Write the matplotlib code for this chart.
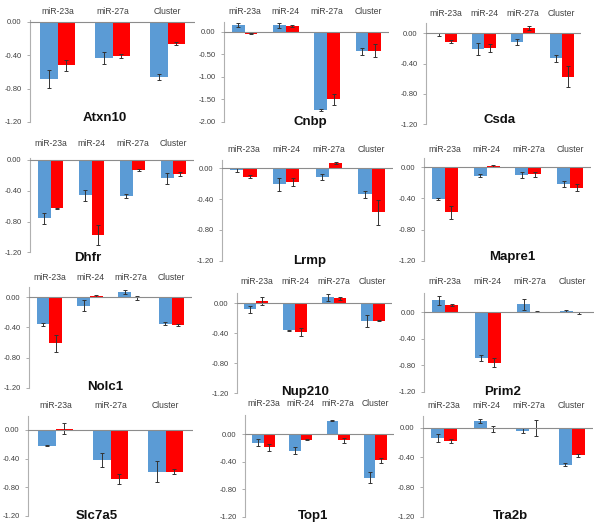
import numpy as np
import matplotlib
matplotlib.use('Agg')
from matplotlib import pyplot as plt
from matplotlib.ticker import FormatStrFormatter

plt.rcParams['font.family'] = ['Liberation Sans', 'DejaVu Sans']

BLUE = '#5b9bd5'
RED = '#ff0000'
GREY_TXT = '#404040'

# values (log fold change, blue / red series)
genes = ['Atxn10', 'Cnbp', 'Csda', 'Dhfr', 'Lrmp', 'Mapre1',
         'Nolc1', 'Nup210', 'Prim2', 'Slc7a5', 'Top1', 'Tra2b']

cats4 = ['miR-23a', 'miR-24', 'miR-27a', 'Cluster']
cats3 = ['miR-23a', 'miR-27a', 'Cluster']
cats = [cats3, cats4, cats4, cats4, cats4, cats4,
        cats4, cats4, cats4, cats3, cats4, cats4]

blue = [
    [-0.68, -0.43, -0.66],
    [0.15, 0.14, -1.73, -0.43],
    [-0.01, -0.21, -0.11, -0.33],
    [-0.76, -0.46, -0.47, -0.24],
    [-0.02, -0.21, -0.11, -0.34],
    [-0.41, -0.11, -0.10, -0.21],
    [-0.36, -0.11, 0.07, -0.35],
    [-0.08, -0.36, 0.08, -0.24],
    [0.18, -0.69, 0.12, 0.02],
    [-0.22, -0.42, -0.58],
    [-0.12, -0.24, 0.20, -0.63],
    [-0.14, 0.09, -0.04, -0.50],
]
blue_err = [
    [0.11, 0.07, 0.04],
    [0.04, 0.05, 0.02, 0.08],
    [0.02, 0.08, 0.04, 0.05],
    [0.07, 0.07, 0.03, 0.07],
    [0.03, 0.09, 0.04, 0.04],
    [0.01, 0.02, 0.04, 0.04],
    [0.02, 0.07, 0.03, 0.02],
    [0.05, 0.01, 0.05, 0.08],
    [0.07, 0.04, 0.08, 0.02],
    [0.01, 0.10, 0.15],
    [0.05, 0.05, 0.01, 0.08],
    [0.05, 0.03, 0.03, 0.02],
]
red = [
    [-0.52, -0.41, -0.26],
    [-0.04, 0.13, -1.50, -0.42],
    [-0.11, -0.19, 0.07, -0.57],
    [-0.63, -0.98, -0.13, -0.18],
    [-0.11, -0.18, 0.07, -0.57],
    [-0.58, 0.02, -0.09, -0.26],
    [-0.61, 0.02, -0.01, -0.37],
    [0.03, -0.38, 0.07, -0.23],
    [0.11, -0.76, 0.01, -0.01],
    [0.02, -0.69, -0.58],
    [-0.19, -0.08, -0.09, -0.38],
    [-0.18, -0.02, 0.00, -0.37],
]
red_err = [
    [0.07, 0.02, 0.02],
    [0.01, 0.02, 0.12, 0.14],
    [0.02, 0.05, 0.02, 0.14],
    [0.01, 0.13, 0.01, 0.03],
    [0.02, 0.05, 0.01, 0.16],
    [0.08, 0.01, 0.03, 0.04],
    [0.11, 0.01, 0.03, 0.01],
    [0.05, 0.05, 0.02, 0.01],
    [0.02, 0.07, 0.01, 0.01],
    [0.08, 0.07, 0.04],
    [0.05, 0.01, 0.03, 0.04],
    [0.03, 0.04, 0.11, 0.02],
]
yticks_std = [0.0, -0.4, -0.8, -1.2]
yticks_cnbp = [0.0, -0.5, -1.0, -1.5, -2.0]

# panel geometry in pixels: left, right, top, zero, bottom, ymin, label y, title x, title y
layout = [
    (30, 195, 20, 22, 122, -1.2, 12, 105, 118),
    (224, 389, 22, 31.7, 122, -2.0, 12, 310, 122),
    (426, 581, 23, 33.3, 124.3, -1.2, 13, 500, 120),
    (30, 194, 158, 160, 252.3, -1.2, 143, 88, 258),
    (222, 393, 160, 168.3, 260.7, -1.2, 150, 310, 261),
    (424, 591, 158, 167.3, 260.7, -1.2, 150, 512, 257),
    (29, 192, 287, 297.3, 387.7, -1.2, 278, 105, 387),
    (237, 392, 293, 303.3, 393.3, -1.2, 282, 305, 392),
    (424, 594, 293, 312.3, 391.7, -1.2, 282, 503, 392),
    (28, 193, 416, 430, 516, -1.2, 406, 97, 516),
    (245, 394, 415, 434.3, 516.7, -1.2, 404, 313, 516),
    (423, 593, 416, 427.7, 516.7, -1.2, 406, 510, 516),
]

W, H = 600, 526
fig = plt.figure(figsize=(W / 100, H / 100), dpi=100)

for i, g in enumerate(genes):
    left, right, top, y0, bot, ymin, lab_y, tx, ty = layout[i]
    scale = (bot - y0) / (-ymin)
    ymax = (y0 - top) / scale
    ax = fig.add_axes([left / W, 1 - bot / H, (right - left) / W, (bot - top) / H])
    n = len(cats[i])
    x = np.arange(n)
    w = 0.31
    ek = dict(ecolor='#333333', elinewidth=0.7, capsize=1.2, capthick=0.7)
    ax.bar(x - w / 2, blue[i], w, color=BLUE, yerr=blue_err[i], error_kw=ek, zorder=2)
    ax.bar(x + w / 2, red[i], w, color=RED, yerr=red_err[i], error_kw=ek, zorder=2)
    ax.axhline(0, color='#8c8c8c', lw=0.8, zorder=3)
    ax.set_xlim(-0.5, n - 0.5)
    ax.set_ylim(ymin, ymax)
    ax.set_yticks(yticks_cnbp if g == 'Cnbp' else yticks_std)
    ax.yaxis.set_major_formatter(FormatStrFormatter('%.2f'))
    ax.tick_params(axis='y', labelsize=5.5, colors='#a0a0a0', labelcolor=GREY_TXT,
                   length=2, width=0.6, pad=4)
    ax.set_xticks([])
    for s in ('top', 'right', 'bottom'):
        ax.spines[s].set_visible(False)
    ax.spines['left'].set_color('#b0b0b0')
    ax.spines['left'].set_linewidth(0.8)
    ax.patch.set_alpha(0)
    # category names above the panel
    for j, c in enumerate(cats[i]):
        cx = left + (j + 0.5) * (right - left) / n
        fig.text(cx / W, 1 - lab_y / H, c, ha='center', va='center',
                 fontsize=6.2, color=GREY_TXT)
    fig.text(tx / W, 1 - ty / H, g, ha='center', va='center',
             fontsize=9.5, fontweight='bold', color='#111111')

fig.savefig('out.png', dpi=100)
